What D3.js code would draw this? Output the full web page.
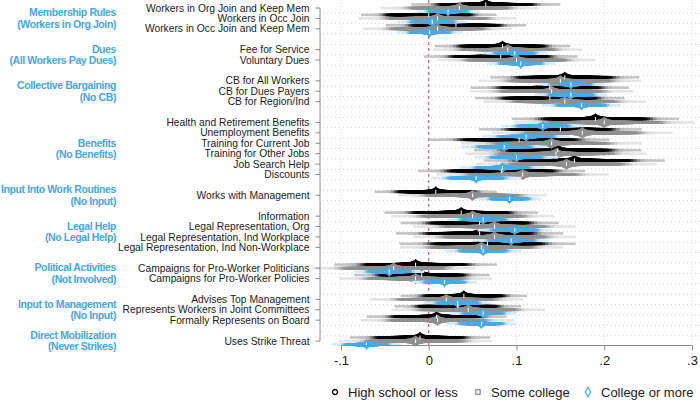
<!DOCTYPE html>
<html>
<head>
<meta charset="utf-8">
<script src="https://cdn.jsdelivr.net/npm/d3@7"></script>
<style>
  body { margin: 0; background: #fff; }
  svg { display: block; font-family: "Liberation Sans", Arial, sans-serif; }
</style>
</head>
<body>
<svg id="chart" width="700" height="404"></svg>
<script>
// Group headers (category name + reference category)
const groupTitles = ['Membership Rules', 'Dues', 'Collective Bargaining', 'Benefits',
  'Input Into Work Routines', 'Legal Help', 'Political Activities', 'Input to Management',
  'Direct Mobilization'];
const groupBases = ['(Workers in Org Join)', '(All Workers Pay Dues)', '(No CB)', '(No Benefits)',
  '(No Input)', '(No Legal Help)', '(Not Involved)', '(No Input)', '(Never Strikes)'];
const groupItems = [
  ['Workers in Org Join and Keep Mem', 'Workers in Occ Join', 'Workers in Occ Join and Keep Mem'],
  ['Fee for Service', 'Voluntary Dues'],
  ['CB for All Workers', 'CB for Dues Payers', 'CB for Region/Ind'],
  ['Health and Retirement Benefits', 'Unemployment Benefits', 'Training for Current Job',
    'Training for Other Jobs', 'Job Search Help', 'Discounts'],
  ['Works with Management'],
  ['Information', 'Legal Representation, Org', 'Legal Representation, Ind Workplace',
    'Legal Representation, Ind Non-Workplace'],
  ['Campaigns for Pro-Worker Politicians', 'Campaigns for Pro-Worker Policies'],
  ['Advises Top Management', 'Represents Workers in Joint Committees', 'Formally Represents on Board'],
  ['Uses Strike Threat']
];

// Estimates and standard errors, one per item, in order
const hsEst = [0.065, 0.000, 0.031, 0.084, 0.082, 0.155, 0.138, 0.138, 0.190, 0.150, 0.103, 0.147,
  0.166, 0.083, 0.008, 0.037, 0.058, 0.058, 0.067, -0.015, -0.008, 0.040, 0.033, 0.009, -0.010];
const hsSE = [0.033, 0.030, 0.031, 0.030, 0.034, 0.033, 0.035, 0.033, 0.037, 0.036, 0.040, 0.037,
  0.040, 0.037, 0.027, 0.034, 0.035, 0.037, 0.039, 0.036, 0.030, 0.028, 0.028, 0.031, 0.031];
const scEst = [0.035, 0.010, 0.010, 0.090, 0.100, 0.150, 0.140, 0.155, 0.200, 0.175, 0.140, 0.145,
  0.157, 0.107, 0.050, 0.050, 0.075, 0.075, 0.060, -0.040, -0.015, 0.020, 0.045, 0.010, -0.015];
const scSE = [0.035, 0.035, 0.033, 0.033, 0.035, 0.036, 0.036, 0.036, 0.040, 0.040, 0.040, 0.040,
  0.040, 0.038, 0.033, 0.036, 0.036, 0.036, 0.036, 0.036, 0.034, 0.034, 0.034, 0.034, 0.034];
const colEst = [0.022, 0.004, 0.001, 0.098, 0.105, 0.162, 0.162, 0.174, 0.130, 0.111, 0.086, 0.100,
  0.084, 0.054, 0.092, 0.062, 0.098, 0.094, 0.062, -0.045, 0.018, 0.033, 0.062, 0.060, -0.071];
const colSE = [0.014, 0.0155, 0.0145, 0.0145, 0.015, 0.0145, 0.016, 0.0175, 0.0185, 0.0195, 0.019,
  0.0185, 0.019, 0.020, 0.014, 0.016, 0.0165, 0.0165, 0.017, 0.0155, 0.0145, 0.015, 0.0145, 0.0155, 0.0155];

const seriesNames = ['High school or less', 'Some college', 'College or more'];
const xTicks = [-0.1, 0, 0.1, 0.2, 0.3];
const xTickLabels = ['-.1', '0', '.1', '.2', '.3'];

const series = [
  { name: seriesNames[0], est: hsEst, se: hsSE, color: '#000000', offset: -0.34, symbol: d3.symbolCircle },
  { name: seriesNames[1], est: scEst, se: scSE, color: '#8f8f8f', offset: 0, symbol: d3.symbolSquare },
  { name: seriesNames[2], est: colEst, se: colSE, color: '#49abe8', offset: 0.34, symbol: d3.symbolDiamond }
];

// Lay rows out in slots, leaving an empty slot between groups
const rows = [];
const groupSlots = [];
let slot = 0;
groupItems.forEach(items => {
  const first = slot;
  items.forEach(label => { rows.push({ label, slot }); slot++; });
  groupSlots.push((first + slot - 1) / 2);
  slot++;
});
const lastSlot = slot - 2;

const svg = d3.select('#chart');
const x = d3.scaleLinear().domain([-0.1, 0.3]).range([341, 692]);
const y = d3.scaleLinear().domain([0, lastSlot]).range([8, 341]);
const axisY = 345.5;

// Inverse normal CDF (Acklam approximation)
function probit(p) {
  const a = [-39.69683028665376, 220.9460984245205, -275.9285104469687, 138.3577518672690, -30.66479806614716, 2.506628277459239];
  const b = [-54.47609879822406, 161.5858368580409, -155.6989798598866, 66.80131188771972, -13.28068155288572];
  const c = [-0.007784894002430293, -0.3223964580411365, -2.400758277161838, -2.549732539343734, 4.374664141464968, 2.938163982698783];
  const d = [0.007784695709041462, 0.3224671290700398, 2.445134137142996, 3.754408661907416];
  const pl = 0.02425;
  let q, r;
  if (p < pl) {
    q = Math.sqrt(-2 * Math.log(p));
    return (((((c[0]*q+c[1])*q+c[2])*q+c[3])*q+c[4])*q+c[5]) / ((((d[0]*q+d[1])*q+d[2])*q+d[3])*q+1);
  }
  if (p <= 1 - pl) {
    q = p - 0.5; r = q * q;
    return (((((a[0]*r+a[1])*r+a[2])*r+a[3])*r+a[4])*r+a[5])*q / (((((b[0]*r+b[1])*r+b[2])*r+b[3])*r+b[4])*r+1);
  }
  q = Math.sqrt(-2 * Math.log(1 - p));
  return -(((((c[0]*q+c[1])*q+c[2])*q+c[3])*q+c[4])*q+c[5]) / ((((d[0]*q+d[1])*q+d[2])*q+d[3])*q+1);
}

// Smoothed CI levels, widest first
const levels = d3.range(60).map(k => 0.99 - k * (0.98 / 59));
const levelHeight = p => 2.5 + 1.8 * (1 - p) + 7.5 * Math.pow(1 - p, 10);
const levelIntensity = p => {
  const s = Math.max(0, Math.min(1, (p - 0.88) / 0.09));
  return 1 - 0.77 * s * s * (3 - 2 * s);
};

// Grid: horizontal dotted lines between slots
const gridG = svg.append('g').attr('class', 'grid');
gridG.selectAll('.hgrid')
  .data(d3.range(lastSlot))
  .enter().append('line')
  .attr('x1', 323).attr('x2', 700)
  .attr('y1', d => y(d + 0.5)).attr('y2', d => y(d + 0.5))
  .attr('stroke', '#c8c8c8').attr('stroke-width', 0.8)
  .attr('stroke-dasharray', '1,3');

gridG.selectAll('.vgrid')
  .data(xTicks.filter(t => t !== 0))
  .enter().append('line')
  .attr('x1', d => x(d)).attr('x2', d => x(d))
  .attr('y1', 0).attr('y2', axisY)
  .attr('stroke', '#d4d4d4').attr('stroke-width', 0.8)
  .attr('stroke-dasharray', '1,2');

// Zero reference line
svg.append('line')
  .attr('x1', x(0)).attr('x2', x(0))
  .attr('y1', 0).attr('y2', axisY)
  .attr('stroke', '#b8336a').attr('stroke-width', 1)
  .attr('stroke-dasharray', '3,3');

// Smoothed confidence intervals
series.forEach(s => {
  const g = svg.append('g').attr('class', 'series');
  rows.forEach((r, i) => {
    const b = s.est[i], se = s.se[i];
    const cy = y(r.slot + s.offset);
    levels.forEach(p => {
      const z = probit(0.5 + p / 2);
      const h = levelHeight(p);
      g.append('rect')
        .attr('x', x(b - z * se))
        .attr('width', x(b + z * se) - x(b - z * se))
        .attr('y', cy - h / 2)
        .attr('height', h)
        .attr('fill', d3.interpolateRgb('#ffffff', s.color)(levelIntensity(p)));
    });
  });
});

// Point markers (hollow, drawn as small white ticks)
series.forEach(s => {
  svg.append('g').selectAll('rect')
    .data(rows)
    .enter().append('rect')
    .attr('x', (d, i) => x(s.est[i]) - 0.5)
    .attr('y', d => y(d.slot + s.offset) - 2)
    .attr('width', 1)
    .attr('height', 4)
    .attr('fill', '#fff');
});

// Y axis
const axisColor = '#8a8a8a';
svg.append('line')
  .attr('x1', 320).attr('x2', 320)
  .attr('y1', y(0)).attr('y2', y(lastSlot))
  .attr('stroke', axisColor).attr('stroke-width', 1);

svg.append('g').selectAll('line')
  .data(rows)
  .enter().append('line')
  .attr('x1', 315.5).attr('x2', 320)
  .attr('y1', d => y(d.slot)).attr('y2', d => y(d.slot))
  .attr('stroke', axisColor).attr('stroke-width', 1);

svg.append('g').selectAll('text')
  .data(rows)
  .enter().append('text')
  .attr('x', 309.5)
  .attr('y', d => y(d.slot))
  .attr('dy', '0.35em')
  .attr('text-anchor', 'end')
  .style('font-size', '10.3px')
  .style('fill', '#1a1a1a')
  .text(d => d.label);

// Group labels
const groupG = svg.append('g').selectAll('g')
  .data(groupTitles)
  .enter().append('g');

groupG.append('text')
  .attr('x', 116)
  .attr('y', (d, i) => y(groupSlots[i]) - 5.6)
  .attr('dy', '0.35em')
  .attr('text-anchor', 'end')
  .style('font-size', '10.5px')
  .style('font-weight', 'bold')
  .style('letter-spacing', '-0.4px')
  .style('fill', '#47a6e3')
  .text(d => d);

groupG.append('text')
  .attr('x', 116)
  .attr('y', (d, i) => y(groupSlots[i]) + 5.6)
  .attr('dy', '0.35em')
  .attr('text-anchor', 'end')
  .style('font-size', '10.5px')
  .style('font-weight', 'bold')
  .style('letter-spacing', '-0.4px')
  .style('fill', '#47a6e3')
  .text((d, i) => groupBases[i]);

// X axis
const xAxis = d3.axisBottom(x)
  .tickValues(xTicks)
  .tickFormat((d, i) => xTickLabels[i])
  .tickSize(5)
  .tickPadding(5);

const xAxisGroup = svg.append('g')
  .attr('class', 'x-axis')
  .attr('transform', `translate(0,${axisY})`)
  .call(xAxis);

xAxisGroup.select('.domain')
  .attr('d', `M${x(-0.1)},0H${x(0.3)}`)
  .style('stroke', axisColor);
xAxisGroup.selectAll('line').style('stroke', axisColor);
xAxisGroup.selectAll('text')
  .style('font-size', '13px')
  .style('fill', '#1a1a1a')
  .style('font-family', '"Liberation Sans", Arial, sans-serif');

// Legend
const legendX = [335, 478, 588];
const legend = svg.append('g').attr('class', 'legend');
series.forEach((s, i) => {
  legend.append('path')
    .attr('d', d3.symbol().type(s.symbol).size(i === 2 ? 26 : 20)())
    .attr('transform', `translate(${legendX[i]},392)`)
    .attr('fill', '#fff')
    .attr('stroke', i === 1 ? '#9a9a9a' : s.color)
    .attr('stroke-width', 1.3);
  legend.append('text')
    .attr('x', legendX[i] + 13)
    .attr('y', 392)
    .attr('dy', '0.35em')
    .style('font-size', '13px')
    .style('fill', '#1a1a1a')
    .text(s.name);
});
</script>
</body>
</html>
